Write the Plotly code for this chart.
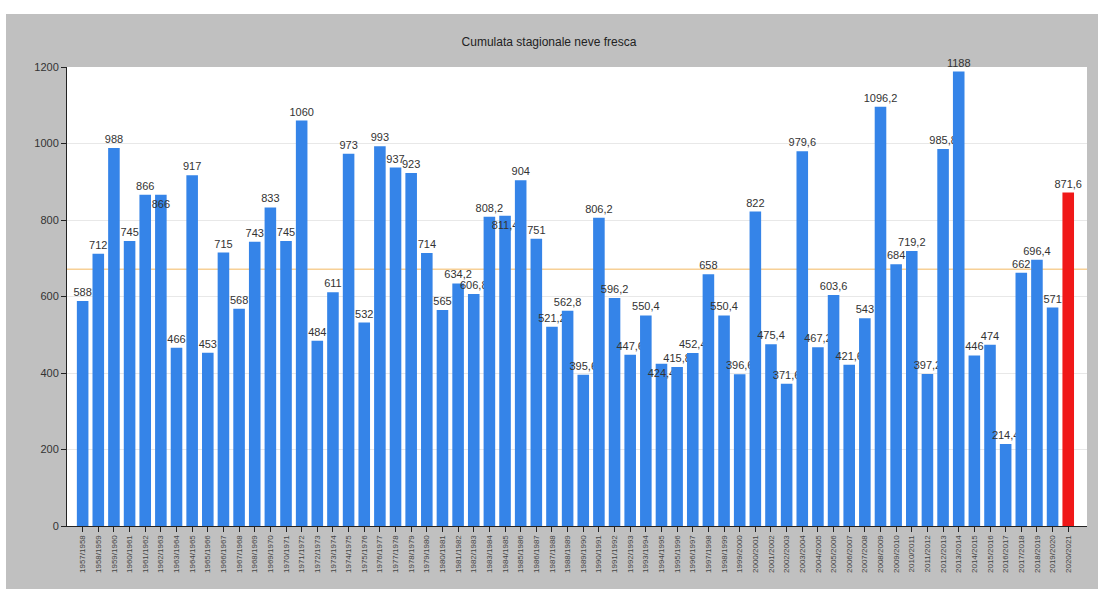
import plotly.graph_objects as go

seasons = [f"{y}/{y+1}" for y in range(1957, 2021)]
values = [588, 712, 988, 745, 866, 866, 466, 917, 453, 715, 568, 743, 833, 745, 1060,
          484, 611, 973, 532, 993, 937, 923, 714, 565, 634.2, 606.8, 808.2, 811.4, 904,
          751, 521.2, 562.8, 395.6, 806.2, 596.2, 447.6, 550.4, 424.4, 415.8, 452.4, 658,
          550.4, 396.6, 822, 475.4, 371.6, 979.6, 467.2, 603.6, 421.6, 543, 1096.2, 684,
          719.2, 397.2, 985.8, 1188, 446, 474, 214.4, 662, 696.4, 571, 871.6]
y_ticks = [0, 200, 400, 600, 800, 1000, 1200]
# labels the reference draws down on the bar top to avoid a neighbour's label
labels_on_bar = ["1962/1963", "1984/1985", "1994/1995"]

n = len(values)
colors = ["#3584e8"] * (n - 1) + ["#f01818"]
labels = [(f"{v:g}").replace(".", ",") for v in values]
positions = ["inside" if s in labels_on_bar else "outside" for s in seasons]
mean_val = sum(values) / n

W, H = 1098, 589
L, R, T, B = 67, 11, 67, 63
pw, ph = W - L - R, H - T - B

fig = go.Figure()
fig.add_trace(go.Bar(
    x=list(range(n)), y=values, marker=dict(color=colors, line=dict(width=0)),
    text=labels, textposition=positions, insidetextanchor="end", textangle=0,
    cliponaxis=False, constraintext="none",
    textfont=dict(size=11, color="#333333", family="Liberation Sans"),
    insidetextfont=dict(size=11, color="#333333", family="Liberation Sans"),
    outsidetextfont=dict(size=11, color="#333333", family="Liberation Sans"),
    hoverinfo="x+y",
))

shapes = [
    dict(type="line", xref="x", yref="y", x0=-1, x1=64.2, y0=mean_val, y1=mean_val,
         line=dict(color="#f7d096", width=1.5), layer="below"),
    # white outer frame (top and left)
    dict(type="rect", xref="paper", yref="paper", x0=-L / pw, x1=(W - L) / pw,
         y0=(H - B - 14) / ph, y1=(H - B) / ph + 0.01, fillcolor="white",
         line=dict(width=0), layer="above"),
    dict(type="rect", xref="paper", yref="paper", x0=-L / pw - 0.01, x1=(6 - L) / pw,
         y0=-B / ph - 0.01, y1=(H - B) / ph + 0.01, fillcolor="white",
         line=dict(width=0), layer="above"),
]

fig.update_layout(
    width=W, height=H,
    margin=dict(l=L, r=R, t=T, b=B),
    paper_bgcolor="#c0c0c0", plot_bgcolor="white",
    bargap=0.26, showlegend=False,
    title=dict(text="Cumulata stagionale neve fresca", x=0.5, xref="container",
               y=1 - 42 / H, yref="container", xanchor="center", yanchor="middle",
               font=dict(size=12, color="#222222", family="Liberation Sans")),
    font=dict(family="Liberation Sans", color="#333333"),
    shapes=shapes,
    xaxis=dict(range=[-1, 64.2], tickmode="array", tickvals=list(range(n)), ticktext=seasons,
               tickangle=-90, tickfont=dict(size=8, color="#444444"),
               ticks="outside", ticklen=5, tickcolor="#222222",
               showline=True, linecolor="#222222", linewidth=1, showgrid=False,
               zeroline=False),
    yaxis=dict(range=[0, 1200], tickmode="array", tickvals=y_ticks,
               tickfont=dict(size=11, color="#333333"),
               ticks="outside", ticklen=5, tickcolor="#222222",
               showline=True, linecolor="#222222", linewidth=1,
               showgrid=True, gridcolor="#e8e8e8", gridwidth=1, zeroline=False),
)

fig.write_html("out.html")
